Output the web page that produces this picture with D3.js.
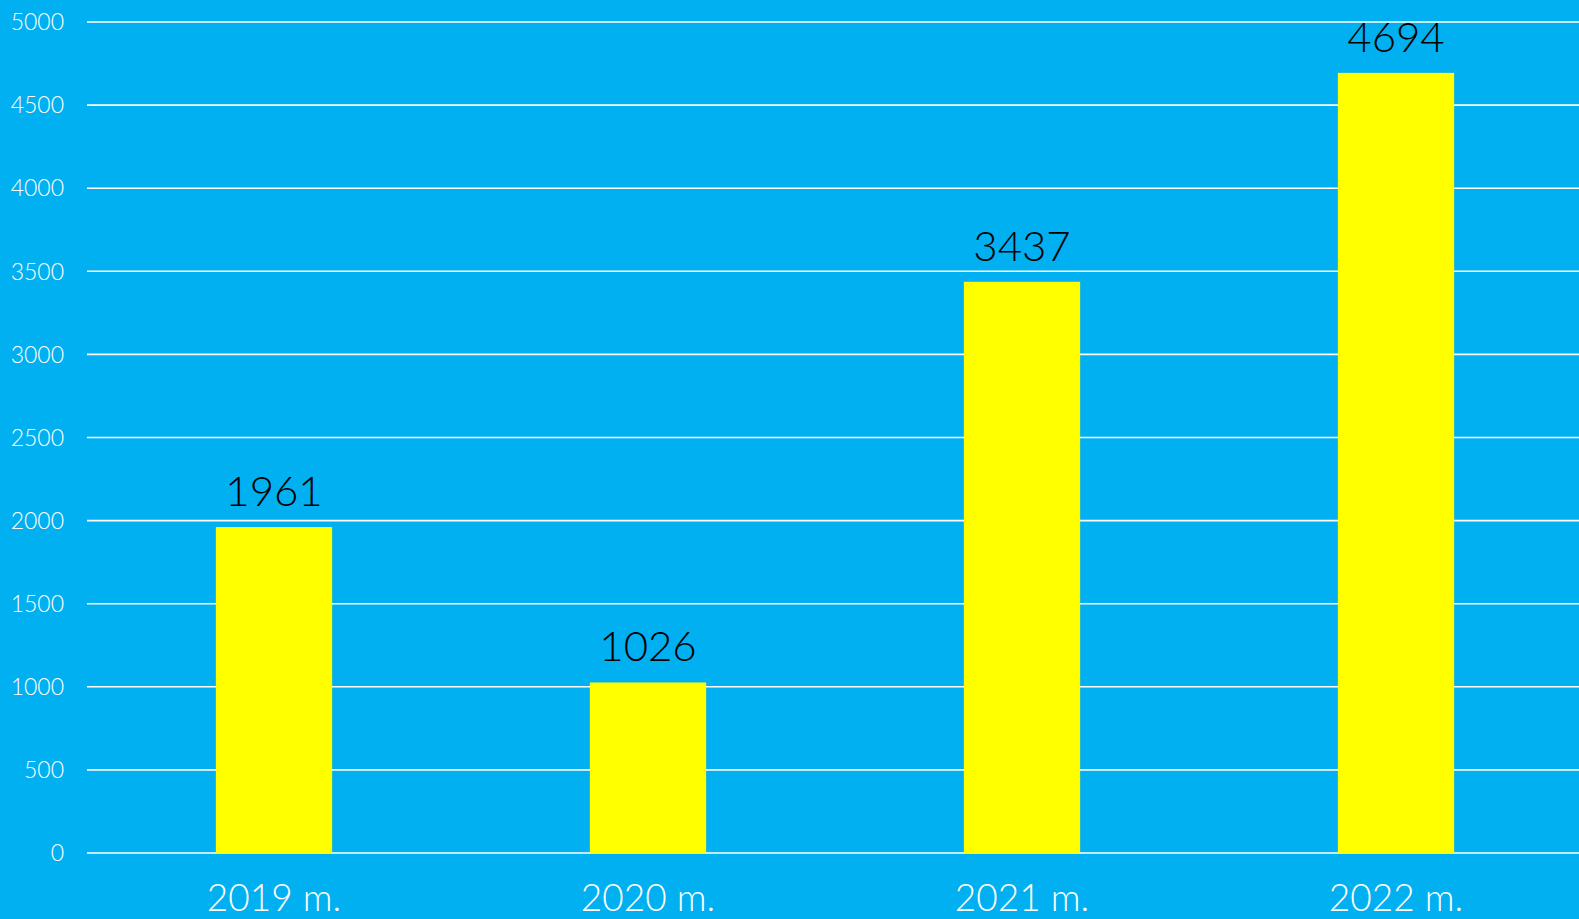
<!DOCTYPE html>
<html>
<head>
<meta charset="utf-8">
<script src="https://cdn.jsdelivr.net/npm/d3@7.9.0/dist/d3.min.js"></script>
<style>
  html, body { margin: 0; padding: 0; background: #00b0f0; overflow: hidden; }
  svg { display: block; }
</style>
</head>
<body>
<svg id="chart" width="1579" height="919"></svg>
<script>
const years = ['2019 m.', '2020 m.', '2021 m.', '2022 m.'];
const counts = [1961, 1026, 3437, 4694];
const yTicks = [0, 500, 1000, 1500, 2000, 2500, 3000, 3500, 4000, 4500, 5000];

const width = 1579, height = 919;
const margin = { top: 22, right: 0, bottom: 66, left: 87 };

const svg = d3.select('#chart');

svg.append('rect')
    .attr('width', width)
    .attr('height', height)
    .attr('fill', '#00b0f0');

// categories spread slightly past the right edge, like the original slide
const x = d3.scaleBand()
    .domain(years)
    .range([margin.left, width + 4])
    .paddingInner(0.689)
    .paddingOuter(0.3445);

const y = d3.scaleLinear()
    .domain([0, 5000])
    .range([height - margin.bottom, margin.top]);

// gridlines
svg.append('g')
    .selectAll('line')
    .data(yTicks)
    .join('line')
    .attr('x1', margin.left)
    .attr('x2', width - margin.right)
    .attr('y1', d => y(d))
    .attr('y2', d => y(d))
    .attr('stroke', '#ffffff')
    .attr('stroke-width', 1.6);

// y axis labels
svg.append('g')
    .selectAll('text')
    .data(yTicks)
    .join('text')
    .attr('x', 64)
    .attr('y', d => y(d))
    .attr('dy', '0.36em')
    .attr('text-anchor', 'end')
    .attr('fill', '#ffffff')
    .attr('font-family', 'Lato, sans-serif')
    .attr('font-weight', 300)
    .attr('font-size', 23)
    .text(d => d);

// bars
svg.append('g')
    .selectAll('rect')
    .data(counts)
    .join('rect')
    .attr('x', (d, i) => x(years[i]))
    .attr('width', x.bandwidth())
    .attr('y', d => y(d))
    .attr('height', d => y(0) - y(d))
    .attr('fill', '#ffff00');

// value labels
svg.append('g')
    .selectAll('text')
    .data(counts)
    .join('text')
    .attr('x', (d, i) => x(years[i]) + x.bandwidth() / 2)
    .attr('y', d => y(d) - 21)
    .attr('text-anchor', 'middle')
    .attr('fill', '#000000')
    .attr('font-family', 'Lato, sans-serif')
    .attr('font-weight', 300)
    .attr('font-size', 42)
    .text(d => d);

// x labels
svg.append('g')
    .selectAll('text')
    .data(years)
    .join('text')
    .attr('x', d => x(d) + x.bandwidth() / 2)
    .attr('y', y(0) + 58)
    .attr('text-anchor', 'middle')
    .attr('fill', '#ffffff')
    .attr('font-family', 'Lato, sans-serif')
    .attr('font-weight', 300)
    .attr('font-size', 37)
    .text(d => d);
</script>
</body>
</html>
